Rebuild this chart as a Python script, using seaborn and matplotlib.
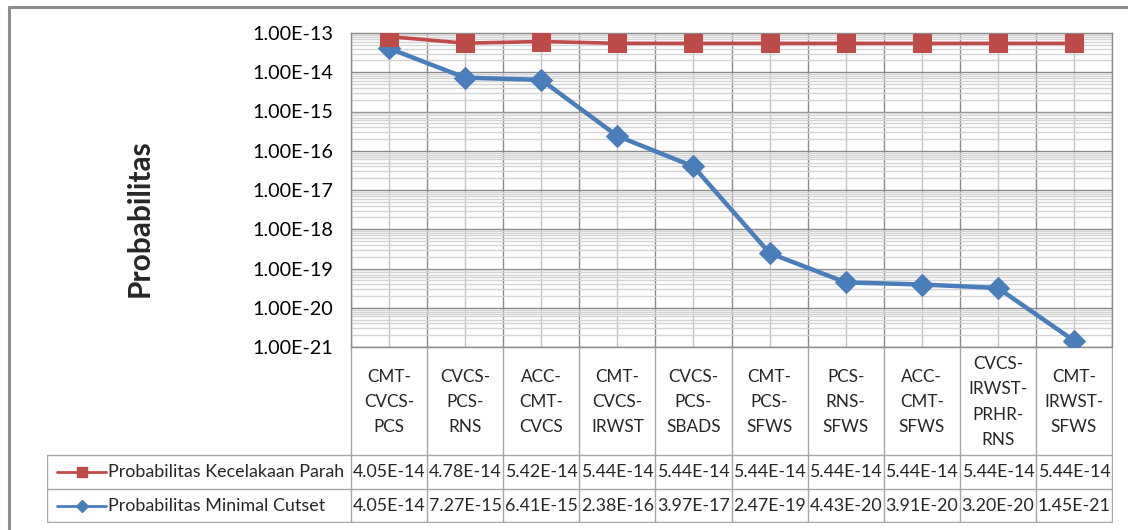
import numpy as np
import pandas as pd
import matplotlib
matplotlib.use("Agg")
import matplotlib.pyplot as plt
from matplotlib.lines import Line2D
from matplotlib.ticker import FixedLocator, LogLocator, NullFormatter, FuncFormatter
import seaborn as sns

# ---- data -------------------------------------------------------------
categories = [
    "CMT-\nCVCS-\nPCS", "CVCS-\nPCS-\nRNS", "ACC-\nCMT-\nCVCS", "CMT-\nCVCS-\nIRWST",
    "CVCS-\nPCS-\nSBADS", "CMT-\nPCS-\nSFWS", "PCS-\nRNS-\nSFWS", "ACC-\nCMT-\nSFWS",
    "CVCS-\nIRWST-\nPRHR-\nRNS", "CMT-\nIRWST-\nSFWS",
]
kecelakaan_parah = [4.05e-14, 4.78e-14, 5.42e-14, 5.44e-14, 5.44e-14,
                    5.44e-14, 5.44e-14, 5.44e-14, 5.44e-14, 5.44e-14]
minimal_cutset = [4.05e-14, 7.27e-15, 6.41e-15, 2.38e-16, 3.97e-17,
                  2.47e-19, 4.43e-20, 3.91e-20, 3.20e-20, 1.45e-21]
kecelakaan_labels = ["4.05E-14", "4.78E-14", "5.42E-14", "5.44E-14", "5.44E-14",
                     "5.44E-14", "5.44E-14", "5.44E-14", "5.44E-14", "5.44E-14"]
cutset_labels = ["4.05E-14", "7.27E-15", "6.41E-15", "2.38E-16", "3.97E-17",
                 "2.47E-19", "4.43E-20", "3.91E-20", "3.20E-20", "1.45E-21"]
series_names = ["Probabilitas Kecelakaan Parah", "Probabilitas Minimal Cutset"]
y_ticks = [1e-21, 1e-20, 1e-19, 1e-18, 1e-17, 1e-16, 1e-15, 1e-14, 1e-13]

RED = "#BE4B48"
BLUE = "#4A7EBB"
FONT = ["Lato", "DejaVu Sans"]

sns.set_theme(style="white")
plt.rcParams["font.family"] = FONT

W, H = 1128, 530
fig = plt.figure(figsize=(W / 100, H / 100), dpi=100)

def fig_rect(x0, y0, x1, y1):
    return [x0 / W, 1 - y1 / H, (x1 - x0) / W, (y1 - y0) / H]

# outer chart frame (top and left edges)
fig.add_artist(Line2D([9 / W, 1.0], [1 - 7 / H, 1 - 7 / H], color="#8C8C8C", lw=2.2))
fig.add_artist(Line2D([9 / W, 9 / W], [1 - 7 / H, 0], color="#8C8C8C", lw=2.2))

PX0, PX1, PY0, PY1 = 351, 1112, 33, 347
ax = fig.add_axes(fig_rect(PX0, PY0, PX1, PY1))

n = len(categories)
idx = np.arange(n)
# stacked line: the upper series sits on top of the cutset series
stacked_top = np.array(kecelakaan_parah) + np.array(minimal_cutset)
df = pd.DataFrame({
    "x": np.concatenate([idx, idx]),
    "y": np.concatenate([stacked_top, minimal_cutset]),
    "series": [series_names[0]] * n + [series_names[1]] * n,
})

ax.set_yscale("log")
ax.set_ylim(1e-21, 1e-13)
ax.set_xlim(-0.5, n - 0.5)

# gridlines
ax.yaxis.set_major_locator(FixedLocator(y_ticks))
ax.yaxis.set_minor_locator(LogLocator(base=10, subs=np.arange(2, 10), numticks=100))
ax.yaxis.set_minor_formatter(NullFormatter())
ax.grid(True, which="minor", axis="y", color="#D4D4D4", lw=1.0)
ax.grid(True, which="major", axis="y", color="#8A8A8A", lw=1.0)
for b in np.arange(-0.5, n, 1.0):
    ax.axvline(b, color="#8A8A8A", lw=1.0, zorder=0.5)
for c in idx:
    ax.axvline(c, color="#C4C4C4", lw=1.0, zorder=0.5)
ax.set_axisbelow(True)

sns.lineplot(data=df[df.series == series_names[1]], x="x", y="y", ax=ax,
             color=BLUE, lw=3.2, marker="D", markersize=11,
             markeredgecolor=BLUE, sort=False, legend=False, zorder=3)
sns.lineplot(data=df[df.series == series_names[0]], x="x", y="y", ax=ax,
             color=RED, lw=2.6, marker="s", markersize=13,
             markeredgecolor=RED, sort=False, legend=False, zorder=4)

ax.set_xticks([])
ax.set_xlabel("")
ax.set_ylabel("")
ax.yaxis.set_major_formatter(FuncFormatter(lambda v, p: "1.00E-%02d" % (-round(np.log10(v)))))
ax.tick_params(axis="y", which="both", length=0, pad=13, labelsize=14.2, labelcolor="black")
for s in ax.spines.values():
    s.set_color("#8A8A8A")
    s.set_linewidth(1.0)
for lab in ax.get_yticklabels():
    lab.set_fontfamily(FONT)

fig.text(140 / W, 1 - 218 / H, "Probabilitas", rotation=90, ha="center", va="center",
         fontsize=21.5, fontweight="bold", family=FONT)

# ---- data table -------------------------------------------------------
TX0, TY0, TY1 = 47, 347, 523
tax = fig.add_axes(fig_rect(TX0, TY0, PX1 + 1, TY1))
tax.set_xlim(TX0, PX1 + 1)
tax.set_ylim(TY1, TY0)
tax.axis("off")

grid_c = "#A6A6A6"
col_w = (PX1 - PX0) / n
ROW1, ROW2 = 455, 489
bounds = [PX0 + i * col_w for i in range(n + 1)]
for b in bounds:
    tax.plot([b, b], [TY0, TY1 - 1], color=grid_c, lw=1.0)
tax.plot([TX0, TX0], [ROW1, TY1 - 1], color=grid_c, lw=1.0)
for yy in (ROW1, ROW2, TY1 - 1):
    tax.plot([TX0, PX1], [yy, yy], color=grid_c, lw=1.0)

for i, cat in enumerate(categories):
    cx = PX0 + (i + 0.5) * col_w
    tax.text(cx, 402, cat, ha="center", va="center", fontsize=12.3,
             linespacing=1.72, family=FONT)
    tax.text(cx, (ROW1 + ROW2) / 2, kecelakaan_labels[i], ha="center", va="center",
             fontsize=12.8, family=FONT)
    tax.text(cx, (ROW2 + TY1) / 2, cutset_labels[i], ha="center", va="center",
             fontsize=12.8, family=FONT)

for yy, name, col, mk, ms in [((ROW1 + ROW2) / 2, series_names[0], RED, "s", 7.5),
                               ((ROW2 + TY1) / 2, series_names[1], BLUE, "D", 6)]:
    tax.plot([57, 106], [yy, yy], color=col, lw=2.0)
    tax.plot([82], [yy], marker=mk, color=col, markersize=ms, markeredgecolor=col)
    tax.text(108, yy, name, ha="left", va="center", fontsize=12.9, family=FONT)

fig.savefig("out.png", dpi=100)
